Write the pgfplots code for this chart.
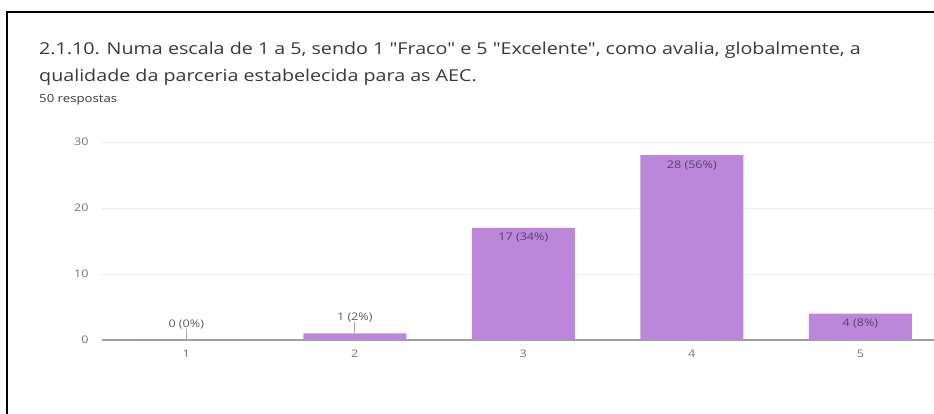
\documentclass[border=0pt]{standalone}
\usepackage{fontspec}
\setmainfont{Open Sans}[Ligatures=TeXOff, FakeStretch=1.2]
\usepackage{pgfplots}
\pgfplotsset{compat=1.18}
\usepackage{pgfplotstable}
\definecolor{titlec}{RGB}{58,58,58}
\definecolor{tickc}{RGB}{117,117,117}
\definecolor{gridc}{RGB}{236,236,236}
\definecolor{basec}{RGB}{160,160,160}
\definecolor{barc}{RGB}{188,134,219}
\definecolor{inc}{RGB}{88,66,110}
\definecolor{outc}{RGB}{95,95,95}
\definecolor{leadc}{RGB}{170,170,170}
\pgfplotstableread{
x y pct
1 0 0
2 1 2
3 17 34
4 28 56
5 4 8
}\data
\begin{document}
\begin{tikzpicture}
\useasboundingbox (0pt,0pt) rectangle (934pt,414pt);
\fill[white] (0pt,0pt) rectangle (934pt,414pt);
\draw[black, line width=2pt] (7pt,-2pt) -- (7pt,402pt) -- (936pt,402pt);
\node[anchor=base west, inner sep=0pt, text=titlec, font=\fontsize{16.4}{19}\selectfont] at (39pt,359pt) {2.1.10. Numa escala de 1 a 5, sendo 1 "Fraco" e 5 "Excelente", como avalia, globalmente, a};
\node[anchor=base west, inner sep=0pt, text=titlec, font=\fontsize{16.4}{19}\selectfont] at (39pt,332pt) {qualidade da parceria estabelecida para as AEC.};
\node[anchor=base west, inner sep=0pt, text=titlec, font=\fontsize{11}{13}\selectfont] at (39pt,311pt) {50 respostas};
\begin{axis}[
  at={(102pt,74pt)}, anchor=south west,
  scale only axis, width=832.5pt, height=198pt,
  xmin=0.5, xmax=5.44, ymin=0, ymax=30,
  axis line style={draw=none},
  major tick length=0pt,
  xtick={1,2,3,4,5},
  ytick={10,20,30},
  extra y ticks={0},
  extra y tick style={grid style={draw=basec, line width=2pt}},
  ymajorgrids,
  grid style={draw=gridc, line width=0.8pt},
  tick label style={font=\fontsize{10.5}{12}\selectfont, text=tickc},
  /pgf/number format/assume math mode=true,
  yticklabel style={xshift=-10pt},
  xticklabel style={yshift=-6pt},
  clip=false,
]
\addplot[ybar, bar width=103pt, fill=barc, draw=none,
  restrict x to domain=0.5:2.5,
  visualization depends on={\thisrow{pct}\as\pct},
  point meta=y,
  nodes near coords={\pgfmathprintnumber{\pgfplotspointmeta} (\pgfmathprintnumber{\pct}\%)\\[-1pt]\textcolor{leadc}{\rule{0.6pt}{11pt}}},
  every node near coord/.style={anchor=south, align=center, inner sep=0pt, text=outc, font=\fontsize{10.5}{12}\selectfont},
] table[x=x, y=y] {\data};
\addplot[ybar, bar width=103pt, fill=barc, draw=none,
  restrict x to domain=2.5:5.5,
  visualization depends on={\thisrow{pct}\as\pct},
  point meta=y,
  nodes near coords={\pgfmathprintnumber{\pgfplotspointmeta} (\pgfmathprintnumber{\pct}\%)},
  every node near coord/.style={anchor=north, yshift=-5pt, inner sep=0pt, text=inc, font=\fontsize{10.5}{12}\selectfont},
] table[x=x, y=y] {\data};
\end{axis}
\end{tikzpicture}
\end{document}
